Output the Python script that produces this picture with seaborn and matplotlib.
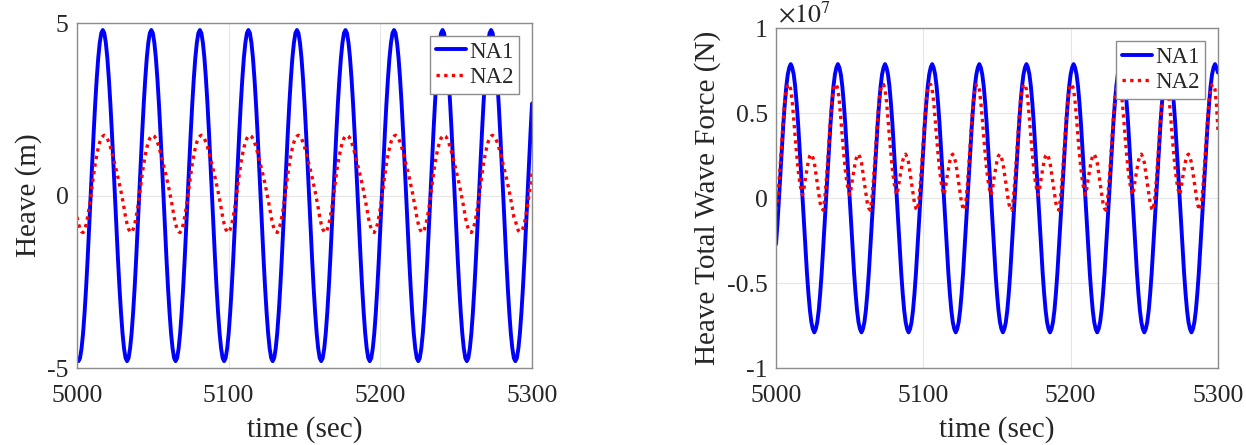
import numpy as np
import matplotlib
matplotlib.use("Agg")
import matplotlib.pyplot as plt
from matplotlib.ticker import FuncFormatter
import seaborn as sns

# ---------------- data ----------------
# both panels: samples every 1 s from 5000 to 5300 s
time_sec = np.arange(5000, 5301, 1)

heave_na1 = [
    -4.71,
    -4.80, -4.71, -4.43, -3.99, -3.39, -2.67, -1.84, -0.94, 0.00, 0.94, 1.84, 2.67, 3.39, 3.99, 4.43, 4.71,
    4.80, 4.71, 4.43, 3.99, 3.39, 2.67, 1.84, 0.94, 0.00, -0.94, -1.84, -2.67, -3.39, -3.99, -4.43, -4.71,
    -4.80, -4.71, -4.43, -3.99, -3.39, -2.67, -1.84, -0.94, 0.00, 0.94, 1.84, 2.67, 3.39, 3.99, 4.43, 4.71,
    4.80, 4.71, 4.43, 3.99, 3.39, 2.67, 1.84, 0.94, 0.00, -0.94, -1.84, -2.67, -3.39, -3.99, -4.43, -4.71,
    -4.80, -4.71, -4.43, -3.99, -3.39, -2.67, -1.84, -0.94, 0.00, 0.94, 1.84, 2.67, 3.39, 3.99, 4.43, 4.71,
    4.80, 4.71, 4.43, 3.99, 3.39, 2.67, 1.84, 0.94, 0.00, -0.94, -1.84, -2.67, -3.39, -3.99, -4.43, -4.71,
    -4.80, -4.71, -4.43, -3.99, -3.39, -2.67, -1.84, -0.94, 0.00, 0.94, 1.84, 2.67, 3.39, 3.99, 4.43, 4.71,
    4.80, 4.71, 4.43, 3.99, 3.39, 2.67, 1.84, 0.94, 0.00, -0.94, -1.84, -2.67, -3.39, -3.99, -4.43, -4.71,
    -4.80, -4.71, -4.43, -3.99, -3.39, -2.67, -1.84, -0.94, 0.00, 0.94, 1.84, 2.67, 3.39, 3.99, 4.43, 4.71,
    4.80, 4.71, 4.43, 3.99, 3.39, 2.67, 1.84, 0.94, 0.00, -0.94, -1.84, -2.67, -3.39, -3.99, -4.43, -4.71,
    -4.80, -4.71, -4.43, -3.99, -3.39, -2.67, -1.84, -0.94, 0.00, 0.94, 1.84, 2.67, 3.39, 3.99, 4.43, 4.71,
    4.80, 4.71, 4.43, 3.99, 3.39, 2.67, 1.84, 0.94, 0.00, -0.94, -1.84, -2.67, -3.39, -3.99, -4.43, -4.71,
    -4.80, -4.71, -4.43, -3.99, -3.39, -2.67, -1.84, -0.94, 0.00, 0.94, 1.84, 2.67, 3.39, 3.99, 4.43, 4.71,
    4.80, 4.71, 4.43, 3.99, 3.39, 2.67, 1.84, 0.94, 0.00, -0.94, -1.84, -2.67, -3.39, -3.99, -4.43, -4.71,
    -4.80, -4.71, -4.43, -3.99, -3.39, -2.67, -1.84, -0.94, 0.00, 0.94, 1.84, 2.67, 3.39, 3.99, 4.43, 4.71,
    4.80, 4.71, 4.43, 3.99, 3.39, 2.67, 1.84, 0.94, 0.00, -0.94, -1.84, -2.67, -3.39, -3.99, -4.43, -4.71,
    -4.80, -4.71, -4.43, -3.99, -3.39, -2.67, -1.84, -0.94, 0.00, 0.94, 1.84, 2.67, 3.39, 3.99, 4.43, 4.71,
    4.80, 4.71, 4.43, 3.99, 3.39, 2.67, 1.84, 0.94, 0.00, -0.94, -1.84, -2.67, -3.39, -3.99, -4.43, -4.71,
    -4.80, -4.71, -4.43, -3.99, -3.39, -2.67, -1.84, -0.94, 0.00, 0.94, 1.84, 2.67,
]

heave_na2 = [
    -0.62,
    -0.82, -0.97, -1.05, -1.07, -0.98, -0.84, -0.62, -0.36, -0.05, 0.29, 0.62, 0.92, 1.17, 1.38, 1.55, 1.66,
    1.72, 1.75, 1.72, 1.65, 1.55, 1.41, 1.25, 1.08, 0.90, 0.72, 0.53, 0.33, 0.12, -0.11, -0.35, -0.62,
    -0.82, -0.97, -1.05, -1.07, -0.98, -0.84, -0.62, -0.36, -0.05, 0.29, 0.62, 0.92, 1.17, 1.38, 1.55, 1.66,
    1.72, 1.75, 1.72, 1.65, 1.55, 1.41, 1.25, 1.08, 0.90, 0.72, 0.53, 0.33, 0.12, -0.11, -0.35, -0.62,
    -0.82, -0.97, -1.05, -1.07, -0.98, -0.84, -0.62, -0.36, -0.05, 0.29, 0.62, 0.92, 1.17, 1.38, 1.55, 1.66,
    1.72, 1.75, 1.72, 1.65, 1.55, 1.41, 1.25, 1.08, 0.90, 0.72, 0.53, 0.33, 0.12, -0.11, -0.35, -0.62,
    -0.82, -0.97, -1.05, -1.07, -0.98, -0.84, -0.62, -0.36, -0.05, 0.29, 0.62, 0.92, 1.17, 1.38, 1.55, 1.66,
    1.72, 1.75, 1.72, 1.65, 1.55, 1.41, 1.25, 1.08, 0.90, 0.72, 0.53, 0.33, 0.12, -0.11, -0.35, -0.62,
    -0.82, -0.97, -1.05, -1.07, -0.98, -0.84, -0.62, -0.36, -0.05, 0.29, 0.62, 0.92, 1.17, 1.38, 1.55, 1.66,
    1.72, 1.75, 1.72, 1.65, 1.55, 1.41, 1.25, 1.08, 0.90, 0.72, 0.53, 0.33, 0.12, -0.11, -0.35, -0.62,
    -0.82, -0.97, -1.05, -1.07, -0.98, -0.84, -0.62, -0.36, -0.05, 0.29, 0.62, 0.92, 1.17, 1.38, 1.55, 1.66,
    1.72, 1.75, 1.72, 1.65, 1.55, 1.41, 1.25, 1.08, 0.90, 0.72, 0.53, 0.33, 0.12, -0.11, -0.35, -0.62,
    -0.82, -0.97, -1.05, -1.07, -0.98, -0.84, -0.62, -0.36, -0.05, 0.29, 0.62, 0.92, 1.17, 1.38, 1.55, 1.66,
    1.72, 1.75, 1.72, 1.65, 1.55, 1.41, 1.25, 1.08, 0.90, 0.72, 0.53, 0.33, 0.12, -0.11, -0.35, -0.62,
    -0.82, -0.97, -1.05, -1.07, -0.98, -0.84, -0.62, -0.36, -0.05, 0.29, 0.62, 0.92, 1.17, 1.38, 1.55, 1.66,
    1.72, 1.75, 1.72, 1.65, 1.55, 1.41, 1.25, 1.08, 0.90, 0.72, 0.53, 0.33, 0.12, -0.11, -0.35, -0.62,
    -0.82, -0.97, -1.05, -1.07, -0.98, -0.84, -0.62, -0.36, -0.05, 0.29, 0.62, 0.92, 1.17, 1.38, 1.55, 1.66,
    1.72, 1.75, 1.72, 1.65, 1.55, 1.41, 1.25, 1.08, 0.90, 0.72, 0.53, 0.33, 0.12, -0.11, -0.35, -0.62,
    -0.72, -0.90, -1.02, -1.06, -1.03, -0.95, -0.80, -0.57, -0.30, 0.02, 0.35, 0.66,
]

# force values in units of 1e7 N
force_na1 = [
    -0.27, -0.15, 0.00, 0.15, 0.30, 0.44, 0.56, 0.66, 0.73, 0.77, 0.79, 0.77, 0.73, 0.66, 0.56, 0.44,
    0.30, 0.15, 0.00, -0.15, -0.30, -0.44, -0.56, -0.66, -0.73, -0.77, -0.79, -0.77, -0.73, -0.66, -0.56, -0.44,
    -0.30, -0.15, 0.00, 0.15, 0.30, 0.44, 0.56, 0.66, 0.73, 0.77, 0.79, 0.77, 0.73, 0.66, 0.56, 0.44,
    0.30, 0.15, 0.00, -0.15, -0.30, -0.44, -0.56, -0.66, -0.73, -0.77, -0.79, -0.77, -0.73, -0.66, -0.56, -0.44,
    -0.30, -0.15, 0.00, 0.15, 0.30, 0.44, 0.56, 0.66, 0.73, 0.77, 0.79, 0.77, 0.73, 0.66, 0.56, 0.44,
    0.30, 0.15, 0.00, -0.15, -0.30, -0.44, -0.56, -0.66, -0.73, -0.77, -0.79, -0.77, -0.73, -0.66, -0.56, -0.44,
    -0.30, -0.15, 0.00, 0.15, 0.30, 0.44, 0.56, 0.66, 0.73, 0.77, 0.79, 0.77, 0.73, 0.66, 0.56, 0.44,
    0.30, 0.15, 0.00, -0.15, -0.30, -0.44, -0.56, -0.66, -0.73, -0.77, -0.79, -0.77, -0.73, -0.66, -0.56, -0.44,
    -0.30, -0.15, 0.00, 0.15, 0.30, 0.44, 0.56, 0.66, 0.73, 0.77, 0.79, 0.77, 0.73, 0.66, 0.56, 0.44,
    0.30, 0.15, 0.00, -0.15, -0.30, -0.44, -0.56, -0.66, -0.73, -0.77, -0.79, -0.77, -0.73, -0.66, -0.56, -0.44,
    -0.30, -0.15, 0.00, 0.15, 0.30, 0.44, 0.56, 0.66, 0.73, 0.77, 0.79, 0.77, 0.73, 0.66, 0.56, 0.44,
    0.30, 0.15, 0.00, -0.15, -0.30, -0.44, -0.56, -0.66, -0.73, -0.77, -0.79, -0.77, -0.73, -0.66, -0.56, -0.44,
    -0.30, -0.15, 0.00, 0.15, 0.30, 0.44, 0.56, 0.66, 0.73, 0.77, 0.79, 0.77, 0.73, 0.66, 0.56, 0.44,
    0.30, 0.15, 0.00, -0.15, -0.30, -0.44, -0.56, -0.66, -0.73, -0.77, -0.79, -0.77, -0.73, -0.66, -0.56, -0.44,
    -0.30, -0.15, 0.00, 0.15, 0.30, 0.44, 0.56, 0.66, 0.73, 0.77, 0.79, 0.77, 0.73, 0.66, 0.56, 0.44,
    0.30, 0.15, 0.00, -0.15, -0.30, -0.44, -0.56, -0.66, -0.73, -0.77, -0.79, -0.77, -0.73, -0.66, -0.56, -0.44,
    -0.30, -0.15, 0.00, 0.15, 0.30, 0.44, 0.56, 0.66, 0.73, 0.77, 0.79, 0.77, 0.73, 0.66, 0.56, 0.44,
    0.30, 0.15, 0.00, -0.15, -0.30, -0.44, -0.56, -0.66, -0.73, -0.77, -0.79, -0.77, -0.73, -0.66, -0.56, -0.44,
    -0.30, -0.15, 0.00, 0.15, 0.30, 0.44, 0.56, 0.66, 0.73, 0.77, 0.79, 0.77, 0.74,
]

force_na2 = [
    -0.07, -0.01, 0.09, 0.21, 0.34, 0.47, 0.58, 0.64, 0.67, 0.67, 0.64, 0.57, 0.47, 0.36, 0.26, 0.17,
    0.10, 0.05, 0.02, 0.06, 0.12, 0.17, 0.22, 0.25, 0.26, 0.24, 0.21, 0.15, 0.09, 0.03, -0.03, -0.06,
    -0.07, -0.01, 0.09, 0.21, 0.34, 0.47, 0.58, 0.64, 0.67, 0.67, 0.64, 0.57, 0.47, 0.36, 0.26, 0.17,
    0.10, 0.05, 0.02, 0.06, 0.12, 0.17, 0.22, 0.25, 0.26, 0.24, 0.21, 0.15, 0.09, 0.03, -0.03, -0.06,
    -0.07, -0.01, 0.09, 0.21, 0.34, 0.47, 0.58, 0.64, 0.67, 0.67, 0.64, 0.57, 0.47, 0.36, 0.26, 0.17,
    0.10, 0.05, 0.02, 0.06, 0.12, 0.17, 0.22, 0.25, 0.26, 0.24, 0.21, 0.15, 0.09, 0.03, -0.03, -0.06,
    -0.07, -0.01, 0.09, 0.21, 0.34, 0.47, 0.58, 0.64, 0.67, 0.67, 0.64, 0.57, 0.47, 0.36, 0.26, 0.17,
    0.10, 0.05, 0.02, 0.06, 0.12, 0.17, 0.22, 0.25, 0.26, 0.24, 0.21, 0.15, 0.09, 0.03, -0.03, -0.06,
    -0.07, -0.01, 0.09, 0.21, 0.34, 0.47, 0.58, 0.64, 0.67, 0.67, 0.64, 0.57, 0.47, 0.36, 0.26, 0.17,
    0.10, 0.05, 0.02, 0.06, 0.12, 0.17, 0.22, 0.25, 0.26, 0.24, 0.21, 0.15, 0.09, 0.03, -0.03, -0.06,
    -0.07, -0.01, 0.09, 0.21, 0.34, 0.47, 0.58, 0.64, 0.67, 0.67, 0.64, 0.57, 0.47, 0.36, 0.26, 0.17,
    0.10, 0.05, 0.02, 0.06, 0.12, 0.17, 0.22, 0.25, 0.26, 0.24, 0.21, 0.15, 0.09, 0.03, -0.03, -0.06,
    -0.07, -0.01, 0.09, 0.21, 0.34, 0.47, 0.58, 0.64, 0.67, 0.67, 0.64, 0.57, 0.47, 0.36, 0.26, 0.17,
    0.10, 0.05, 0.02, 0.06, 0.12, 0.17, 0.22, 0.25, 0.26, 0.24, 0.21, 0.15, 0.09, 0.03, -0.03, -0.06,
    -0.07, -0.01, 0.09, 0.21, 0.34, 0.47, 0.58, 0.64, 0.67, 0.67, 0.64, 0.57, 0.47, 0.36, 0.26, 0.17,
    0.10, 0.05, 0.02, 0.06, 0.12, 0.17, 0.22, 0.25, 0.26, 0.24, 0.21, 0.15, 0.09, 0.03, -0.03, -0.06,
    -0.07, -0.01, 0.09, 0.21, 0.34, 0.47, 0.58, 0.64, 0.67, 0.67, 0.64, 0.57, 0.47, 0.36, 0.26, 0.17,
    0.10, 0.05, 0.02, 0.06, 0.12, 0.17, 0.22, 0.25, 0.26, 0.24, 0.21, 0.15, 0.09, 0.03, -0.03, -0.06,
    -0.07, -0.01, 0.09, 0.21, 0.34, 0.47, 0.58, 0.64, 0.67, 0.67, 0.64, 0.55, 0.40,
]
force_scale = 1e7

series_labels = ["NA1", "NA2"]
x_ticks = [5000, 5100, 5200, 5300]
heave_ticks = [-5, 0, 5]
force_ticks = [-1, -0.5, 0, 0.5, 1]

# ---------------- style ----------------
sns.set_theme(style="white")
plt.rcParams["font.family"] = ["Liberation Serif", "DejaVu Serif"]
plt.rcParams["mathtext.fontset"] = "stix"
plt.rcParams["axes.unicode_minus"] = False

BLUE = "#0000ff"
RED = "#ff0000"
EDGE = "#8c8c8c"
TXT = "#262626"
TICK_FS = 18.5
LABEL_FS = 21
LEG_FS = 16.5
DOTS = (0, (1, 1.3))

fig = plt.figure(figsize=(12.46, 4.45), dpi=100)
ax1 = fig.add_axes([0.0618, 0.173, 0.3652, 0.775])
ax2 = fig.add_axes([0.6228, 0.173, 0.3547, 0.763])

sns.lineplot(x=time_sec, y=heave_na1, ax=ax1, color=BLUE, lw=2.8,
             label=series_labels[0], sort=False, estimator=None)
sns.lineplot(x=time_sec, y=heave_na2, ax=ax1, color=RED, lw=2.4,
             linestyle=DOTS, label=series_labels[1], sort=False, estimator=None)

sns.lineplot(x=time_sec, y=np.array(force_na1) * force_scale, ax=ax2, color=BLUE, lw=2.8,
             label=series_labels[0], sort=False, estimator=None)
sns.lineplot(x=time_sec, y=np.array(force_na2) * force_scale, ax=ax2, color=RED, lw=2.4,
             linestyle=DOTS, label=series_labels[1], sort=False, estimator=None)

for ax in (ax1, ax2):
    ax.set_xlim(5000, 5300)
    ax.set_xticks(x_ticks)
    ax.grid(True, color="#e6e6e6", lw=0.8)
    ax.set_axisbelow(True)
    for sp in ax.spines.values():
        sp.set_visible(True)
        sp.set_color(EDGE)
        sp.set_linewidth(1.0)
    ax.tick_params(direction="in", length=4, width=0.8, color=EDGE,
                   labelsize=TICK_FS, labelcolor=TXT)
    ax.tick_params(axis="x", pad=12)
    ax.tick_params(axis="y", pad=6)
    ax.set_xlabel("time (sec)", fontsize=LABEL_FS, color=TXT, labelpad=7)
    leg = ax.legend(loc="upper right", fontsize=LEG_FS, frameon=True, fancybox=False,
                    edgecolor=EDGE, framealpha=1, handlelength=1.3, handletextpad=0.15,
                    borderpad=0.25, labelspacing=0.2, borderaxespad=0.55)
    leg.get_frame().set_linewidth(1.0)
    for t in leg.get_texts():
        t.set_color(TXT)

ax1.set_ylim(-5, 5)
ax1.set_yticks(heave_ticks)
ax1.set_ylabel("Heave (m)", fontsize=LABEL_FS, color=TXT, labelpad=4)

ax2.set_ylim(-1 * force_scale, 1 * force_scale)
ax2.set_yticks([v * force_scale for v in force_ticks])
ax2.yaxis.set_major_formatter(FuncFormatter(lambda v, p: f"{v / force_scale:g}"))
ax2.set_ylabel("Heave Total Wave Force (N)", fontsize=LABEL_FS, color=TXT, labelpad=4)
ax2.text(0.005, 1.015, r"$\times 10^{7}$", transform=ax2.transAxes, ha="left",
         va="baseline", fontsize=TICK_FS, color=TXT)

fig.savefig("out.png", dpi=100)
